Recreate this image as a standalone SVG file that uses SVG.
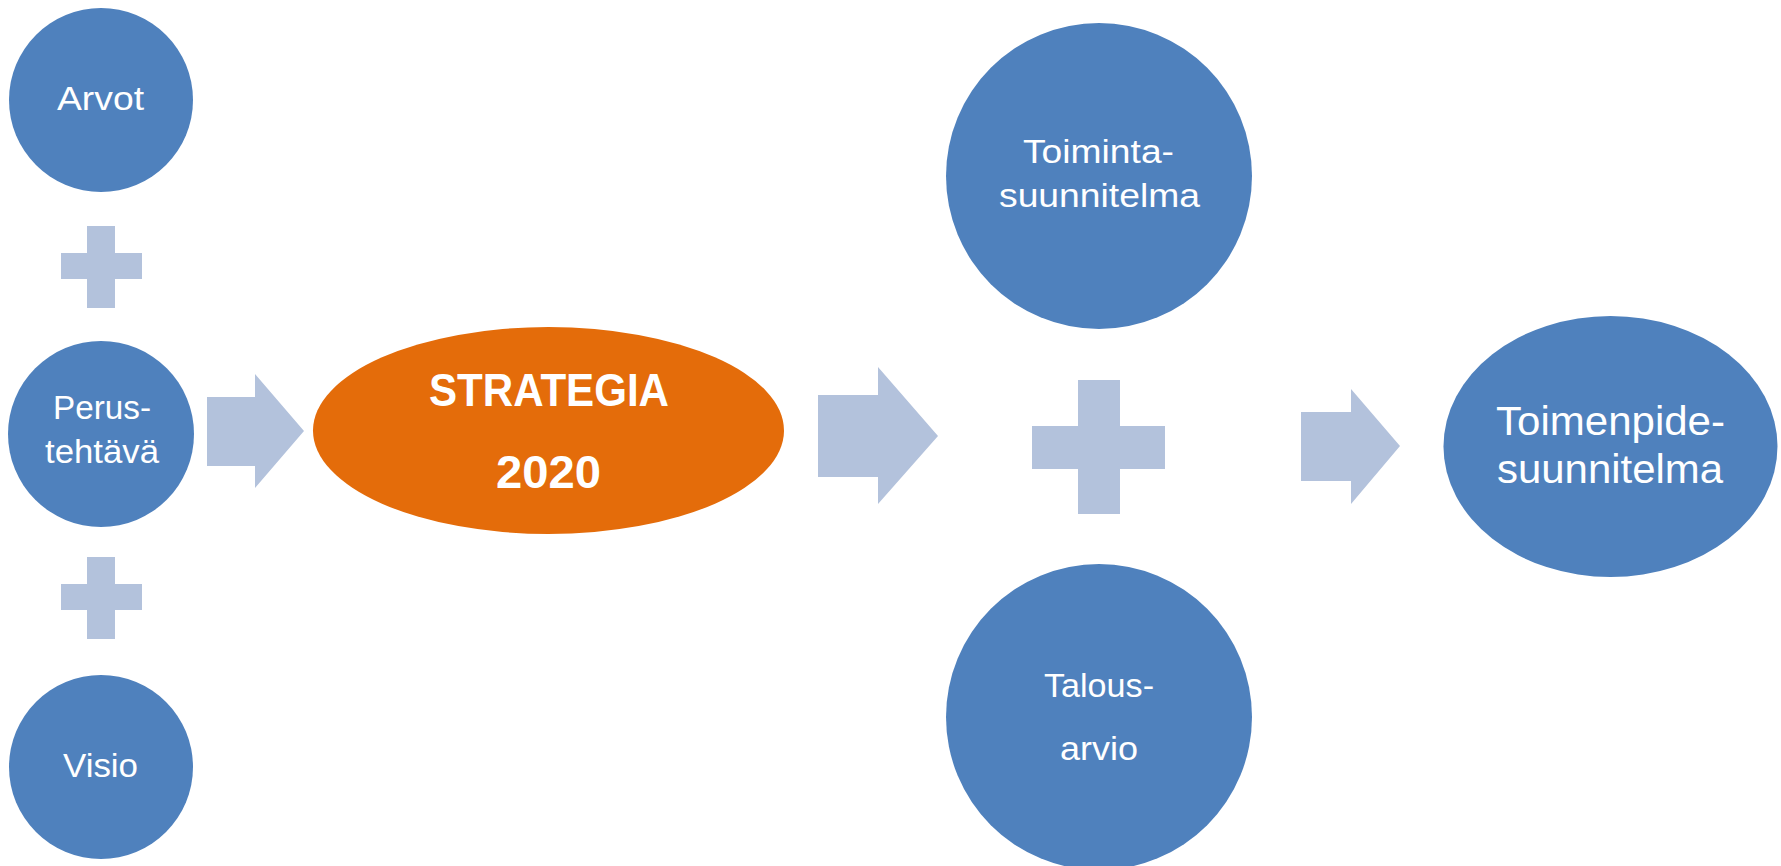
<svg xmlns="http://www.w3.org/2000/svg" width="1781" height="866" viewBox="0 0 1781 866">
<style>
.node{fill:#4F81BD}
.main{fill:#E46C0A}
.conn{fill:#B3C2DC}
.t{font-family:"Liberation Sans",Arial,sans-serif;fill:#FFFFFF;font-size:33px}
.tb{font-family:"Liberation Sans",Arial,sans-serif;fill:#FFFFFF;font-size:47px;font-weight:bold}
.tl{font-family:"Liberation Sans",Arial,sans-serif;fill:#FFFFFF;font-size:40px}
</style>
<rect width="1781" height="866" fill="#FFFFFF"/>
<g id="connectors">
<path class="conn" d="M87,226H115V253H142V279H115V308H87V279H61V253H87Z"/>
<path class="conn" d="M87,557H115V584H142V610H115V639H87V610H61V584H87Z"/>
<path class="conn" d="M1078,380H1120V426H1165V469H1120V514H1078V469H1032V426H1078Z"/>
<polygon class="conn" points="207,397 255,397 255,374 304,431 255,488 255,466 207,466"/>
<polygon class="conn" points="818,395 878,395 878,367 938,436 878,504 878,477 818,477"/>
<polygon class="conn" points="1301,412 1351,412 1351,389 1400,446 1351,504 1351,481 1301,481"/>
</g>
<g id="arvot">
<circle class="node" cx="101" cy="100" r="92"/>
<text class="t" x="57" y="110" textLength="87" lengthAdjust="spacingAndGlyphs">Arvot</text>
</g>
<g id="perustehtava">
<circle class="node" cx="101" cy="434" r="93"/>
<text class="t" x="53" y="419" textLength="98" lengthAdjust="spacingAndGlyphs">Perus-</text>
<text class="t" x="45" y="463" textLength="114" lengthAdjust="spacingAndGlyphs">tehtävä</text>
</g>
<g id="visio">
<circle class="node" cx="101" cy="767" r="92"/>
<text class="t" x="63" y="777" textLength="75" lengthAdjust="spacingAndGlyphs">Visio</text>
</g>
<g id="strategia">
<ellipse class="main" cx="548.5" cy="430.5" rx="235.5" ry="103.5"/>
<text class="tb" x="429" y="406" textLength="240" lengthAdjust="spacingAndGlyphs">STRATEGIA</text>
<text class="tb" x="496" y="488" textLength="105" lengthAdjust="spacingAndGlyphs">2020</text>
</g>
<g id="toimintasuunnitelma">
<circle class="node" cx="1099" cy="176" r="153"/>
<text class="t" x="1023" y="163" textLength="151" lengthAdjust="spacingAndGlyphs">Toiminta-</text>
<text class="t" x="999" y="207" textLength="201" lengthAdjust="spacingAndGlyphs">suunnitelma</text>
</g>
<g id="talousarvio">
<circle class="node" cx="1099" cy="717" r="153"/>
<text class="t" x="1044" y="697" textLength="110" lengthAdjust="spacingAndGlyphs">Talous-</text>
<text class="t" x="1060" y="760" textLength="78" lengthAdjust="spacingAndGlyphs">arvio</text>
</g>
<g id="toimenpidesuunnitelma">
<ellipse class="node" cx="1610.5" cy="446.5" rx="167" ry="130.5"/>
<text class="tl" x="1496" y="435" textLength="229" lengthAdjust="spacingAndGlyphs">Toimenpide-</text>
<text class="tl" x="1497" y="483" textLength="226" lengthAdjust="spacingAndGlyphs">suunnitelma</text>
</g>
</svg>
